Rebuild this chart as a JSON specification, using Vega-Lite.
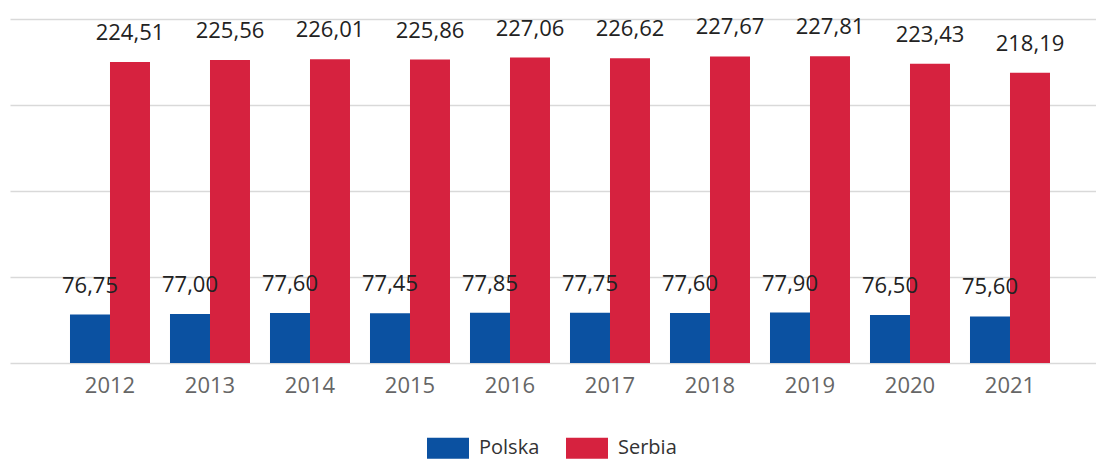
{
  "$schema": "https://vega.github.io/schema/vega-lite/v6.json",
  "width": 1086,
  "height": 344,
  "autosize": {"type": "none"},
  "padding": {"left": 10, "top": 19, "right": 0, "bottom": 97},
  "background": "white",
  "config": {
    "locale": {"number": {"decimal": ",", "thousands": " ", "grouping": [3], "currency": ["", ""]}},
    "view": {"stroke": null},
    "font": "Open Sans"
  },
  "data": {
    "values": [
      {"rok": "2012", "kraj": "Polska", "wartosc": 76.75},
      {"rok": "2013", "kraj": "Polska", "wartosc": 77.00},
      {"rok": "2014", "kraj": "Polska", "wartosc": 77.60},
      {"rok": "2015", "kraj": "Polska", "wartosc": 77.45},
      {"rok": "2016", "kraj": "Polska", "wartosc": 77.85},
      {"rok": "2017", "kraj": "Polska", "wartosc": 77.75},
      {"rok": "2018", "kraj": "Polska", "wartosc": 77.60},
      {"rok": "2019", "kraj": "Polska", "wartosc": 77.90},
      {"rok": "2020", "kraj": "Polska", "wartosc": 76.50},
      {"rok": "2021", "kraj": "Polska", "wartosc": 75.60},
      {"rok": "2012", "kraj": "Serbia", "wartosc": 224.51},
      {"rok": "2013", "kraj": "Serbia", "wartosc": 225.56},
      {"rok": "2014", "kraj": "Serbia", "wartosc": 226.01},
      {"rok": "2015", "kraj": "Serbia", "wartosc": 225.86},
      {"rok": "2016", "kraj": "Serbia", "wartosc": 227.06},
      {"rok": "2017", "kraj": "Serbia", "wartosc": 226.62},
      {"rok": "2018", "kraj": "Serbia", "wartosc": 227.67},
      {"rok": "2019", "kraj": "Serbia", "wartosc": 227.81},
      {"rok": "2020", "kraj": "Serbia", "wartosc": 223.43},
      {"rok": "2021", "kraj": "Serbia", "wartosc": 218.19}
    ]
  },
  "encoding": {
    "x": {
      "field": "rok",
      "type": "nominal",
      "scale": {"paddingInner": 0.2, "paddingOuter": 0.53, "align": 0.566},
      "axis": {
        "title": null,
        "labelAngle": 0,
        "labelFontSize": 22,
        "labelColor": "#666666",
        "labelPadding": 12,
        "ticks": false,
        "domain": false,
        "grid": false
      }
    },
    "xOffset": {"field": "kraj", "type": "nominal", "sort": ["Polska", "Serbia"]},
    "y": {
      "field": "wartosc",
      "type": "quantitative",
      "scale": {"domain": [48.4, 249.6], "zero": false, "nice": false},
      "axis": {
        "title": null,
        "labels": false,
        "ticks": false,
        "domain": false,
        "values": [48.4, 98.7, 149, 199.3, 249.6],
        "gridColor": "#d9d9d9",
        "gridWidth": 1.5
      }
    }
  },
  "layer": [
    {
      "mark": {"type": "bar"},
      "encoding": {
        "y2": {"datum": 48.4},
        "color": {
          "field": "kraj",
          "type": "nominal",
          "scale": {"domain": ["Polska", "Serbia"], "range": ["#0b51a1", "#d6223f"]},
          "legend": {
            "title": null,
            "orient": "none",
            "direction": "horizontal",
            "legendX": 417,
            "legendY": 408,
            "symbolType": "M-1,-0.5H1V0.5H-1Z",
            "symbolSize": 1764,
            "symbolStrokeWidth": 0,
            "labelFontSize": 20,
            "labelColor": "#333333",
            "labelOffset": 10,
            "columnPadding": 26,
            "padding": 0
          }
        }
      }
    },
    {
      "mark": {"type": "text", "dy": -22, "baseline": "alphabetic", "fontSize": 22, "color": "#222222"},
      "encoding": {
        "text": {"field": "wartosc", "type": "quantitative", "format": ".2f"}
      }
    }
  ]
}
